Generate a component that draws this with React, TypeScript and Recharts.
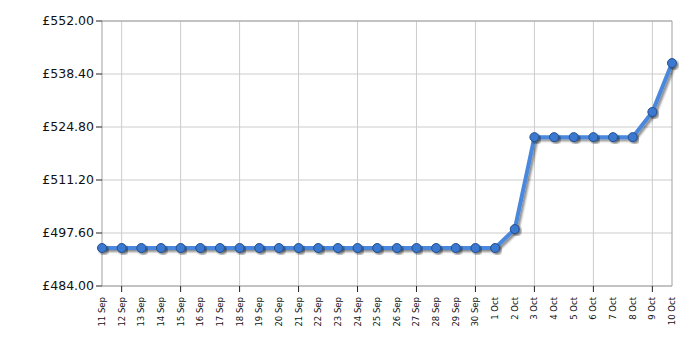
import React from 'react';
import { LineChart, Line, XAxis, YAxis, CartesianGrid, ReferenceLine } from 'recharts';

const categories = [
  '11 Sep', '12 Sep', '13 Sep', '14 Sep', '15 Sep', '16 Sep', '17 Sep', '18 Sep', '19 Sep', '20 Sep',
  '21 Sep', '22 Sep', '23 Sep', '24 Sep', '25 Sep', '26 Sep', '27 Sep', '28 Sep', '29 Sep', '30 Sep',
  '1 Oct', '2 Oct', '3 Oct', '4 Oct', '5 Oct', '6 Oct', '7 Oct', '8 Oct', '9 Oct', '10 Oct',
];
const prices = [
  493.75, 493.75, 493.75, 493.75, 493.75, 493.75, 493.75, 493.75, 493.75, 493.75,
  493.75, 493.75, 493.75, 493.75, 493.75, 493.75, 493.75, 493.75, 493.75, 493.75,
  493.75, 498.6, 522.2, 522.2, 522.2, 522.2, 522.2, 522.2, 528.65, 541.2,
];
const yTicks = [484, 497.6, 511.2, 524.8, 538.4, 552];
const gridCategories = ['12 Sep', '15 Sep', '18 Sep', '21 Sep', '24 Sep', '27 Sep', '30 Sep', '3 Oct', '6 Oct', '9 Oct'];

const data = categories.map((c, i) => ({ date: c, price: prices[i] }));

const XTick = (props: any) => {
  const { x, y, payload } = props;
  const showTick = gridCategories.includes(payload.value);
  return (
    <g>
      {showTick && <line x1={x} x2={x} y1={y - 8} y2={y - 2} stroke="#222" strokeWidth={1} />}
      <text
        x={0}
        y={0}
        transform={`translate(${x + 3},${y + 3}) rotate(-90)`}
        textAnchor="end"
        fontSize={8.5}
        fontFamily="DejaVu Sans, Verdana, sans-serif"
        fill="#111"
      >
        {payload.value}
      </text>
    </g>
  );
};

export default function App() {
  return (
    <LineChart
      width={692}
      height={342}
      data={data}
      margin={{ top: 13, right: 28, left: 0, bottom: 0 }}
    >
      <defs>
        <filter id="shadow" x="-10%" y="-10%" width="130%" height="130%">
          <feGaussianBlur in="SourceAlpha" stdDeviation="1.2" />
          <feOffset dx="2" dy="2" result="off" />
          <feComponentTransfer>
            <feFuncA type="linear" slope="0.45" />
          </feComponentTransfer>
          <feMerge>
            <feMergeNode />
            <feMergeNode in="SourceGraphic" />
          </feMerge>
        </filter>
      </defs>
      <CartesianGrid stroke="#cccccc" strokeWidth={1} vertical={false} />
      {gridCategories.map((c) => (
        <ReferenceLine key={c} x={c} stroke="#cccccc" strokeWidth={1} />
      ))}
      <ReferenceLine y={552} stroke="#a0a0a0" strokeWidth={1} />
      <ReferenceLine x="10 Oct" stroke="#a0a0a0" strokeWidth={1} />
      <XAxis
        dataKey="date"
        interval={0}
        height={64}
        tickLine={false}
        axisLine={{ stroke: '#a0a0a0' }}
        tick={<XTick />}
        padding={{ left: 0, right: 0 }}
      />
      <YAxis
        domain={[484, 552]}
        ticks={yTicks}
        width={94}
        axisLine={{ stroke: '#a0a0a0' }}
        tickLine={{ stroke: '#222' }}
        tickSize={6}
        tickFormatter={(v: number) => `£${v.toFixed(2)}`}
        tick={{ fontSize: 12.5, fontFamily: 'DejaVu Sans, Verdana, sans-serif', fill: '#111' }}
        allowDataOverflow
      />
      <Line
        type="linear"
        dataKey="price"
        stroke="#4a88dc"
        strokeWidth={4}
        filter="url(#shadow)"
        dot={{ r: 4.5, fill: '#3a78d0', stroke: '#234f8e', strokeWidth: 1 }}
        isAnimationActive={false}
      />
    </LineChart>
  );
}
